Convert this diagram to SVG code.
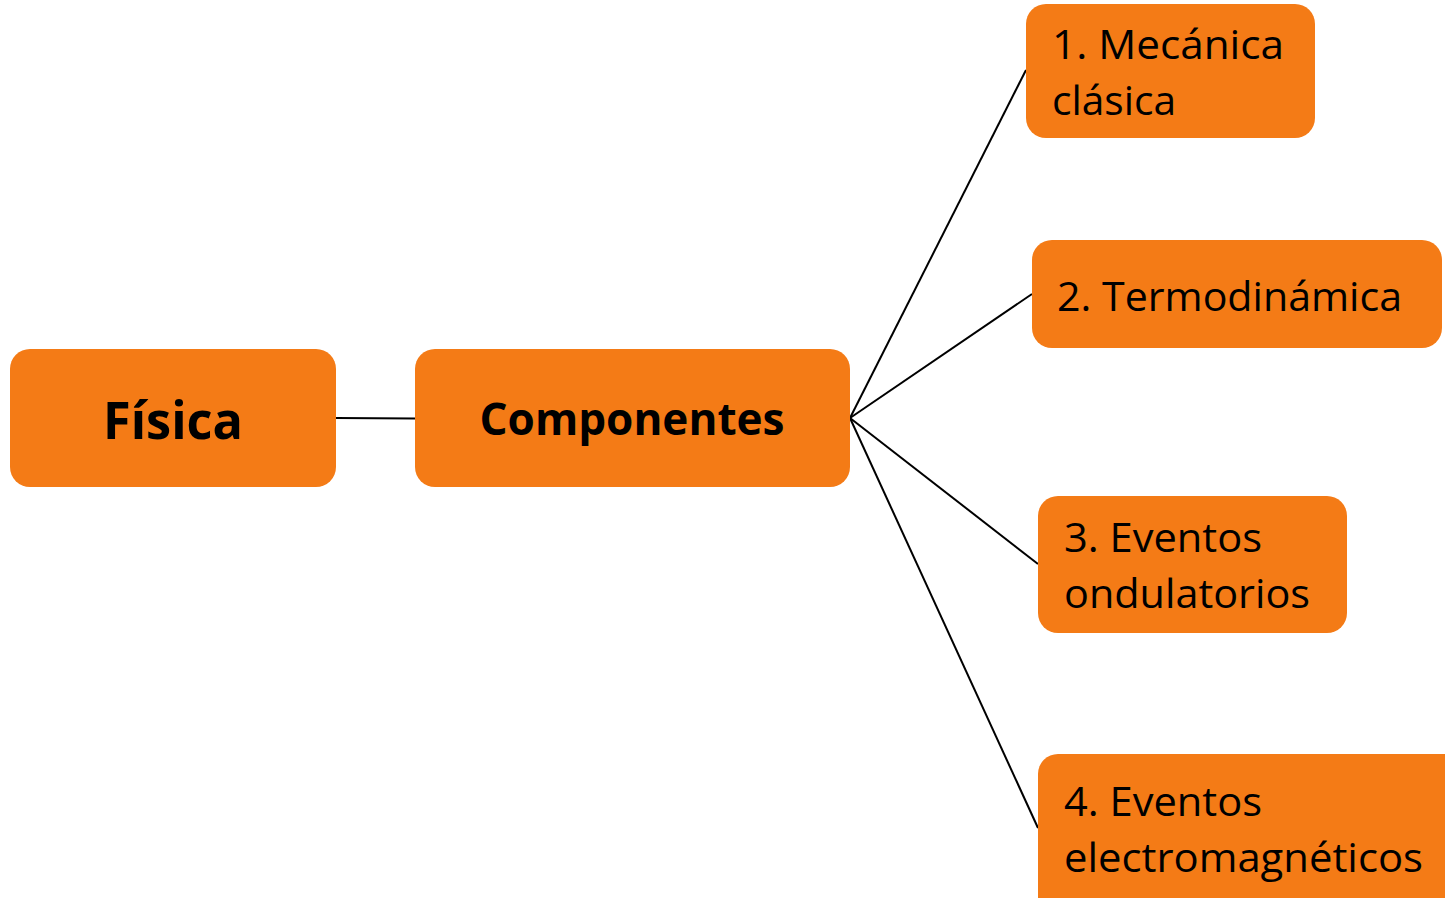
<svg xmlns="http://www.w3.org/2000/svg" width="1445" height="898" viewBox="0 0 1445 898">
<style>
.box{fill:#F47B16;}
.t{font-family:"Open Sans","Noto Sans","Liberation Sans",sans-serif;fill:#000;}
.n{font-size:40px;}
.b{font-weight:bold;}
.c{stroke:#000;stroke-width:2;fill:none;}
</style>
<rect width="1445" height="898" fill="#fff"/>
<g id="connectors">
<line class="c" x1="336" y1="418" x2="415" y2="418.5"/>
<line class="c" x1="850" y1="418" x2="1026" y2="70"/>
<line class="c" x1="850" y1="418" x2="1032" y2="294"/>
<line class="c" x1="850" y1="418" x2="1038" y2="564"/>
<line class="c" x1="850" y1="418" x2="1038" y2="828"/>
</g>
<g id="fisica">
<rect class="box" x="10" y="349" width="326" height="138" rx="20"/>
<text class="t b" x="173" y="439" font-size="52" text-anchor="middle" textLength="140" lengthAdjust="spacingAndGlyphs">Física</text>
</g>
<g id="componentes">
<rect class="box" x="415" y="349" width="435" height="138" rx="20"/>
<text class="t b" x="632" y="435" font-size="44" text-anchor="middle" textLength="305" lengthAdjust="spacingAndGlyphs">Componentes</text>
</g>
<g id="mecanica">
<rect class="box" x="1026" y="4" width="289" height="134" rx="20"/>
<text class="t n" x="1052" y="59" textLength="232" lengthAdjust="spacingAndGlyphs">1. Mecánica</text>
<text class="t n" x="1052" y="115" textLength="124" lengthAdjust="spacingAndGlyphs">clásica</text>
</g>
<g id="termodinamica">
<rect class="box" x="1032" y="240" width="410" height="108" rx="20"/>
<text class="t n" x="1057" y="311" textLength="345" lengthAdjust="spacingAndGlyphs">2. Termodinámica</text>
</g>
<g id="ondulatorios">
<rect class="box" x="1038" y="496" width="309" height="137" rx="20"/>
<text class="t n" x="1064" y="552" textLength="198" lengthAdjust="spacingAndGlyphs">3. Eventos</text>
<text class="t n" x="1064" y="608" textLength="246" lengthAdjust="spacingAndGlyphs">ondulatorios</text>
</g>
<g id="electromagneticos">
<rect class="box" x="1038" y="754" width="427" height="164" rx="20"/>
<text class="t n" x="1064" y="816" textLength="198" lengthAdjust="spacingAndGlyphs">4. Eventos</text>
<text class="t n" x="1064" y="872" textLength="359" lengthAdjust="spacingAndGlyphs">electromagnéticos</text>
</g>
</svg>
